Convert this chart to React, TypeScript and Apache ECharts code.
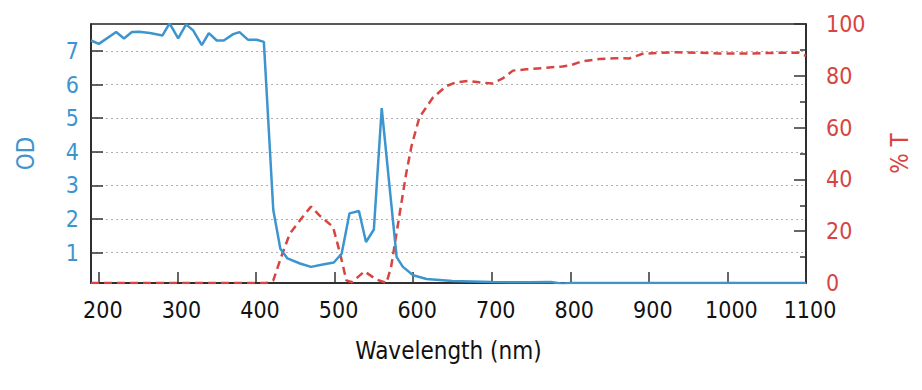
import React, { useEffect, useRef } from "react";
import * as echarts from "echarts";

const odWavelength = [190, 200, 222, 232, 242, 251, 265, 281, 290, 301, 311, 320, 331, 340, 350, 359, 371, 379, 390, 401, 410, 422, 431, 440, 456, 470, 485, 499, 509, 519, 531, 540, 550, 560, 570, 579, 587, 600, 617, 650, 700, 750, 775, 790, 800, 850, 900, 950, 1000, 1050, 1100];
const odValues = [7.31, 7.21, 7.56, 7.37, 7.56, 7.57, 7.53, 7.46, 7.82, 7.37, 7.79, 7.61, 7.17, 7.53, 7.31, 7.31, 7.5, 7.56, 7.33, 7.33, 7.27, 2.27, 1.12, 0.83, 0.68, 0.58, 0.65, 0.71, 0.97, 2.17, 2.24, 1.32, 1.69, 5.3, 2.96, 0.87, 0.58, 0.33, 0.22, 0.16, 0.13, 0.12, 0.13, 0.08, 0.1, 0.1, 0.1, 0.1, 0.1, 0.1, 0.1];

const tWavelength = [190, 413, 422, 432, 443, 458, 470, 481, 498, 507, 515, 522, 538, 553, 566, 572, 583, 591, 598, 608, 625, 642, 655, 670, 684, 701, 714, 727, 744, 765, 790, 800, 814, 837, 858, 875, 892, 913, 934, 964, 990, 1028, 1066, 1091, 1100];
const tValues = [0, 0, 1, 10, 19, 25, 29.5, 26, 21.7, 11.4, 1, 0.3, 4.5, 1.4, 0, 6.3, 27, 42, 53, 64, 71.5, 76, 77.5, 78, 77.5, 77, 79, 82, 82.5, 83, 83.6, 84, 85.5, 86.5, 86.8, 86.7, 88.5, 88.9, 89.1, 88.9, 88.6, 88.6, 88.9, 88.9, 87.7];

const xTicks = [200, 300, 400, 500, 600, 700, 800, 900, 1000, 1100];
const odTicks = [1, 2, 3, 4, 5, 6, 7];

const BLUE = "#3d95cf";
const RED = "#d64541";
const FONT = "'DejaVu Sans Condensed', 'DejaVu Sans', sans-serif";

export default function App() {
  const ref = useRef<HTMLDivElement>(null);
  useEffect(() => {
    if (!ref.current) return;
    const chart = echarts.init(ref.current, undefined, { renderer: "svg" });
    chart.setOption({
      animation: false,
      backgroundColor: "#ffffff",
      textStyle: { fontFamily: FONT },
      grid: {
        left: 91,
        right: 116,
        top: 24,
        bottom: 107,
        show: true,
        borderColor: "#222",
        borderWidth: 1.5,
        containLabel: false,
      },
      xAxis: {
        type: "value",
        min: 190,
        max: 1100,
        name: "Wavelength (nm)",
        nameLocation: "middle",
        nameGap: 56,
        nameTextStyle: { fontSize: 24, color: "#111", fontFamily: FONT },
        axisLine: { show: true, lineStyle: { color: "#222", width: 1.5 } },
        axisTick: {
          show: true,
          inside: true,
          length: 11,
          customValues: xTicks,
          lineStyle: { color: "#333", width: 1.5 },
        },
        axisLabel: {
          customValues: xTicks,
          fontSize: 23,
          color: "#111",
          margin: 15,
          padding: [0, 0, 0, 8],
          fontFamily: FONT,
          formatter: (v: number) => String(v),
        },
        splitLine: { show: false },
      },
      yAxis: [
        {
          type: "value",
          position: "left",
          min: 0.1,
          max: 7.8,
          name: "OD",
          nameLocation: "middle",
          nameRotate: 90,
          nameGap: 53,
          nameTextStyle: { fontSize: 24, color: BLUE, fontFamily: FONT },
          axisLine: { show: true, lineStyle: { color: "#222", width: 1.5 } },
          axisTick: {
            show: true,
            inside: true,
            length: 12,
            customValues: odTicks,
            lineStyle: { color: "#333", width: 1.5 },
          },
          axisLabel: {
            customValues: odTicks,
            fontSize: 23,
            color: BLUE,
            margin: 12,
            fontFamily: FONT,
            formatter: (v: number) => String(v),
          },
          splitLine: {
            show: true,
            lineStyle: { color: "#b0b0b0", width: 1, type: [2, 3] },
          },
        },
        {
          type: "value",
          position: "right",
          min: 0,
          max: 100,
          interval: 20,
          name: "% T",
          nameLocation: "middle",
          nameRotate: 90,
          nameGap: 82,
          nameTextStyle: { fontSize: 24, color: RED, fontFamily: FONT },
          axisLine: { show: true, lineStyle: { color: "#222", width: 1.5 } },
          axisTick: {
            show: true,
            inside: true,
            length: 12,
            lineStyle: { color: "#333", width: 1.5 },
          },
          minorTick: {
            show: true,
            splitNumber: 2,
            length: 6,
            lineStyle: { color: "#333", width: 1.5 },
          },
          axisLabel: {
            fontSize: 23,
            color: RED,
            margin: 20,
            fontFamily: FONT,
            formatter: (v: number) => String(v),
          },
          splitLine: { show: false },
        },
      ],
      series: [
        {
          type: "line",
          name: "%T",
          yAxisIndex: 1,
          data: tWavelength.map((w, i) => [w, tValues[i]]),
          showSymbol: false,
          symbol: "none",
          lineStyle: { color: RED, width: 2.5, type: [8, 5] },
          z: 2,
        },
        {
          type: "line",
          name: "OD",
          yAxisIndex: 0,
          data: odWavelength.map((w, i) => [w, odValues[i]]),
          showSymbol: false,
          symbol: "none",
          lineStyle: { color: BLUE, width: 2.5 },
          z: 3,
        },
      ],
    });
    return () => chart.dispose();
  }, []);
  return (
    <div
      ref={ref}
      style={{ position: "fixed", left: 0, top: 0, width: 922, height: 390, background: "#fff" }}
    />
  );
}
